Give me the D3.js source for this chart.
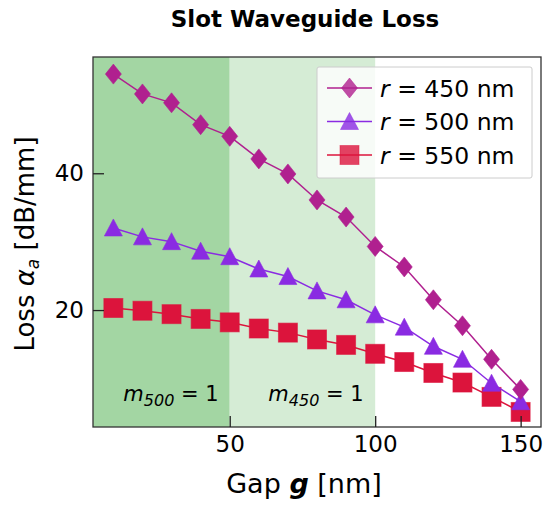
<!DOCTYPE html>
<html><head><meta charset="utf-8">
<script src="https://cdn.jsdelivr.net/npm/d3@7"></script>
<style>body{margin:0;background:#fff}svg{display:block}text{font-family:"DejaVu Sans",sans-serif}</style>
</head><body><svg id="c" width="543" height="506"></svg>
<script>
const gaps = [10,20,30,40,50,60,70,80,90,100,110,120,130,140,150];
const loss450 = [54.5,51.6,50.3,47.1,45.4,42.1,39.9,36.1,33.6,29.3,26.3,21.5,17.7,12.8,8.4];
const loss500 = [32.0,30.7,30.0,28.6,27.8,26.0,24.9,22.8,21.5,19.3,17.5,14.7,12.8,9.3,6.6];
const loss550 = [20.3,19.9,19.4,18.7,18.2,17.3,16.7,15.7,14.9,13.6,12.4,10.8,9.4,7.3,5.1];
const seriesLabels = ["450","500","550"];
const xTicks = [50,100,150];
const yTicks = [20,40];
const regions = [{x0:3,x1:50,label:"500"},{x0:50,x1:100,label:"450"}];

const svg = d3.select("#c");
const m = {l:93,r:541,t:57,b:427};
const x = d3.scaleLinear().domain([3,157]).range([m.l,m.r]);
const y = d3.scaleLinear().domain([2.9,57]).range([m.b,m.t]);

const regionColors = ["#a3d6a3","#d5ecd5"];
regions.forEach((r,i)=>{
  svg.append("rect").attr("x",x(r.x0)).attr("y",m.t).attr("width",x(r.x1)-x(r.x0)).attr("height",m.b-m.t).attr("fill",regionColors[i]);
});

const series = [
  {vals:loss450,color:"#b0208f",shape:"diamond",label:seriesLabels[0]},
  {vals:loss500,color:"#8a2be2",shape:"triangle",label:seriesLabels[1]},
  {vals:loss550,color:"#dc143c",shape:"square",label:seriesLabels[2]}
];
function marker(g,shape,cx,cy,color,op){
  let el;
  if(shape==="diamond"){
    el=g.append("path").attr("d",`M${cx},${cy-10}L${cx+8},${cy}L${cx},${cy+10}L${cx-8},${cy}Z`);
  } else if(shape==="triangle"){
    el=g.append("path").attr("d",`M${cx},${cy-9}L${cx+9},${cy+8}L${cx-9},${cy+8}Z`);
  } else {
    el=g.append("rect").attr("x",cx-9.5).attr("y",cy-9.5).attr("width",19).attr("height",19);
  }
  el.attr("fill",color).attr("fill-opacity",op).attr("stroke",color).attr("stroke-opacity",op*0.6).attr("stroke-width",1);
}
const line = d3.line().x((d,i)=>x(gaps[i])).y(d=>y(d));
const g = svg.append("g");
series.slice().reverse().forEach(s=>{
  g.append("path").attr("d",line(s.vals)).attr("fill","none").attr("stroke",s.color).attr("stroke-width",1.5);
  s.vals.forEach((v,i)=>marker(g,s.shape,x(gaps[i]),y(v),s.color,1));
});

// annotations
regions.forEach((r,i)=>{
  const cx = i===0 ? 171 : 316;
  const t = svg.append("text").attr("x",cx).attr("y",401).attr("text-anchor","middle").attr("font-size",21).attr("fill","#000");
  t.append("tspan").attr("font-style","italic").text("m");
  t.append("tspan").attr("font-style","italic").attr("font-size",16).attr("dy",5).text(r.label);
  t.append("tspan").attr("dy",-5).text(" = 1");
});

// spines
svg.append("rect").attr("x",m.l).attr("y",m.t).attr("width",m.r-m.l).attr("height",m.b-m.t).attr("fill","none").attr("stroke","#333").attr("stroke-width",1.3);

// axes
const xa = svg.append("g").attr("transform",`translate(0,${m.b})`).call(d3.axisBottom(x).tickValues(xTicks).tickSizeInner(-11).tickSizeOuter(0).tickPadding(18));
const ya = svg.append("g").attr("transform",`translate(${m.l},0)`).call(d3.axisLeft(y).tickValues(yTicks).tickSizeInner(-11).tickSizeOuter(0).tickPadding(9));
[xa,ya].forEach(a=>{
  a.select(".domain").remove();
  a.selectAll("line").attr("stroke","#222").attr("stroke-width",1.3);
  a.selectAll("text").attr("font-size",23).attr("fill","#000").attr("font-family","DejaVu Sans, sans-serif");
});
xa.selectAll("text").attr("dy","0.71em").attr("y",9);

// axis labels
const xl = svg.append("text").attr("x",304).attr("y",493).attr("text-anchor","middle").attr("font-size",27).attr("fill","#000");
xl.append("tspan").text("Gap ");
xl.append("tspan").attr("font-style","italic").attr("font-weight","bold").text("g");
xl.append("tspan").text(" [nm]");

const yl = svg.append("text").attr("transform","translate(34,244) rotate(-90)").attr("text-anchor","middle").attr("font-size",26).attr("fill","#000");
yl.append("tspan").text("Loss ");
yl.append("tspan").attr("font-style","italic").text("α");
yl.append("tspan").attr("font-style","italic").attr("font-size",17).attr("dy",5).text("a");
yl.append("tspan").attr("dy",-5).text(" [dB/mm]");

// title
svg.append("text").attr("x",305).attr("y",27).attr("text-anchor","middle").attr("font-size",23).attr("font-weight","bold").attr("fill","#000").text("Slot Waveguide Loss");

// legend
const lg = svg.append("g");
lg.append("rect").attr("x",317).attr("y",67).attr("width",215).attr("height",111).attr("rx",2).attr("fill","#fff").attr("fill-opacity",0.8).attr("stroke","#ccc");
series.forEach((s,i)=>{
  const ly = 88 + i*33.5;
  lg.append("line").attr("x1",327).attr("x2",372).attr("y1",ly).attr("y2",ly).attr("stroke",s.color).attr("stroke-width",1.5);
  marker(lg,s.shape,349.5,ly,s.color,0.8);
  const t = lg.append("text").attr("x",380).attr("y",ly+8.5).attr("font-size",23.5).attr("fill","#000");
  t.append("tspan").attr("font-style","italic").text("r");
  t.append("tspan").text(` = ${s.label} nm`);
});
</script></body></html>
